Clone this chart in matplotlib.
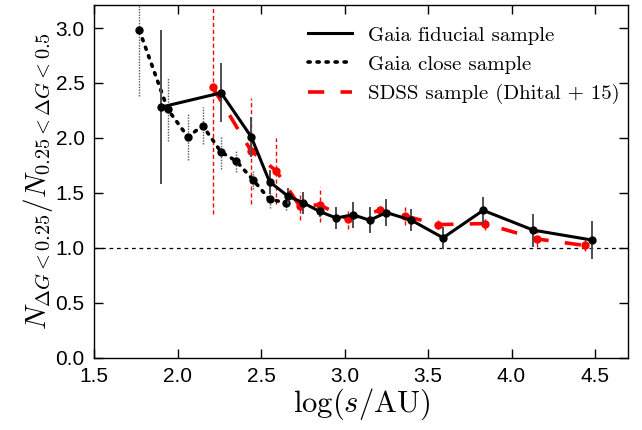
import matplotlib
matplotlib.use("Agg")
import matplotlib.pyplot as plt

# ---- data ----
fid_x = [1.90, 2.26, 2.44, 2.55, 2.66, 2.75, 2.85, 2.95, 3.05, 3.15, 3.25, 3.40, 3.59, 3.83, 4.13, 4.48]
fid_y = [2.28, 2.41, 2.01, 1.60, 1.47, 1.41, 1.33, 1.27, 1.30, 1.25, 1.32, 1.25, 1.09, 1.34, 1.16, 1.07]
fid_err = [0.70, 0.27, 0.18, 0.11, 0.07, 0.10, 0.05, 0.10, 0.12, 0.12, 0.125, 0.10, 0.10, 0.12, 0.15, 0.17]

close_x = [1.77, 1.94, 2.06, 2.15, 2.26, 2.35, 2.45, 2.55, 2.65]
close_y = [2.98, 2.26, 2.01, 2.11, 1.87, 1.79, 1.62, 1.44, 1.41]
close_err = [0.60, 0.29, 0.21, 0.17, 0.15, 0.10, 0.09, 0.08, 0.07]

sdss_x = [2.21, 2.44, 2.59, 2.73, 2.85, 3.02, 3.21, 3.36, 3.56, 3.84, 4.15, 4.44]
sdss_y = [2.46, 1.88, 1.70, 1.38, 1.39, 1.26, 1.34, 1.29, 1.21, 1.22, 1.08, 1.02]
sdss_err = [1.15, 0.48, 0.30, 0.13, 0.16, 0.09, 0.04, 0.08, 0.04, 0.06, 0.07, 0.05]

labels = ['Gaia fiducial sample',
          'Gaia close sample',
          'SDSS sample (Dhital + 15)']

plt.rcParams['mathtext.fontset'] = 'cm'
plt.rcParams['font.family'] = ['Liberation Sans', 'DejaVu Sans']

fig = plt.figure(figsize=(6.42, 4.30), dpi=100)
ax = fig.add_axes([0.1469, 0.1686, 0.9787 - 0.1469, 0.9884 - 0.1686])

# reference line
ax.axhline(1.0, color='black', lw=0.9, ls=(0, (3, 3)), zorder=1)

# error bars
eb = ax.errorbar(close_x, close_y, yerr=close_err, fmt='none', ecolor='0.35',
                 elinewidth=1.0, zorder=2)
eb[2][0].set_linestyle((0, (1, 1)))
eb = ax.errorbar(sdss_x, sdss_y, yerr=sdss_err, fmt='none', ecolor='red',
                 elinewidth=1.0, zorder=2)
eb[2][0].set_linestyle((0, (3, 2)))
ax.errorbar(fid_x, fid_y, yerr=fid_err, fmt='none', ecolor='0.3',
            elinewidth=1.4, zorder=4)

# lines
ax.plot(fid_x, fid_y, color='black', lw=2.2, marker='o', ms=5, zorder=5)
ax.plot(close_x, close_y, color='black', lw=2.6, ls=(0, (0.6, 1.9)),
        dash_capstyle='round', marker='o', ms=5, zorder=3)
ax.plot(sdss_x, sdss_y, color='red', lw=2.6, ls=(0, (4.5, 4.5)),
        marker='o', ms=5, zorder=3)

ax.set_xlim(1.5, 4.7)
ax.set_ylim(0.0, 3.21)
ax.set_xticks([1.5, 2.0, 2.5, 3.0, 3.5, 4.0, 4.5])
ax.set_yticks([0.0, 0.5, 1.0, 1.5, 2.0, 2.5, 3.0])
ax.tick_params(direction='in', length=6.5, width=1, top=True, right=True,
               labelsize=15, pad=7)
for s in ax.spines.values():
    s.set_linewidth(1.0)

ax.set_xlabel(r'$\log(s/\mathrm{AU})$', fontsize=22, labelpad=0)
ax.set_ylabel(r'$N_{\Delta G<0.25}/N_{0.25<\Delta G<0.5}$', fontsize=21, labelpad=0)

# legend handles without markers
h1, = ax.plot([], [], color='black', lw=2.2)
h2, = ax.plot([], [], color='black', lw=2.6, ls=(0, (0.6, 1.9)), dash_capstyle='round')
h3, = ax.plot([], [], color='red', lw=2.6, ls=(0, (4.5, 4.5)))
ax.legend([h1, h2, h3], labels, loc='upper left', bbox_to_anchor=(0.40, 0.94),
          frameon=False, prop={'family': 'cmr10', 'size': 15}, handlelength=2.1,
          borderaxespad=0, borderpad=0, handletextpad=0.8, labelspacing=0.5)

fig.savefig('out.png', dpi=100)
